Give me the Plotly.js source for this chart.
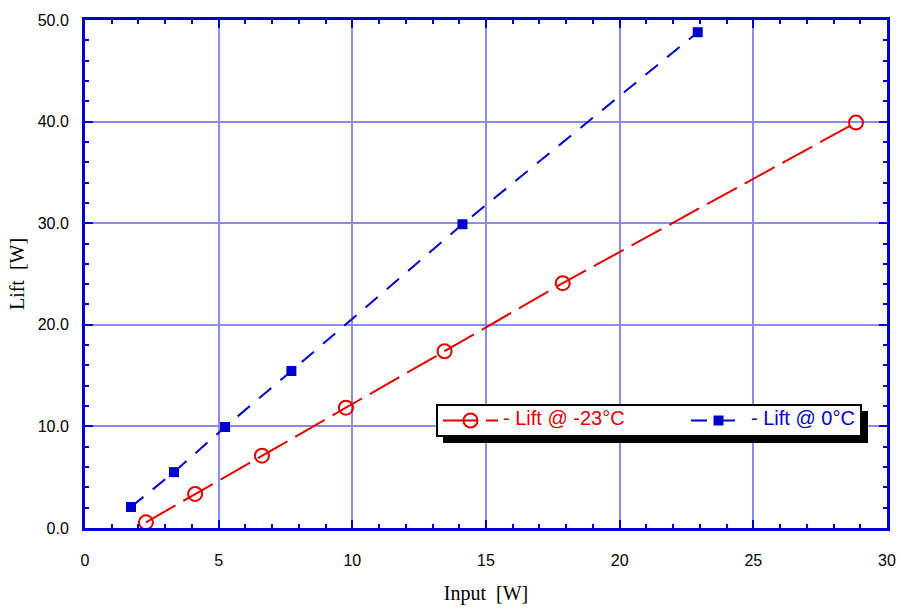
<!DOCTYPE html>
<html>
<head>
<meta charset="utf-8">
<script src="https://cdn.plot.ly/plotly-3.0.1.min.js"></script>
<style>html,body{margin:0;padding:0;background:#fff;}#chart{width:901px;height:609px;}</style>
</head>
<body>
<div id="chart"></div>
<script>
// Lift @ -23°C
const coldInput = [2.28, 4.12, 6.62, 9.76, 13.45, 17.87, 28.84];
const coldLift  = [0.56, 3.35, 7.12, 11.84, 17.4, 24.1, 39.9];
// Lift @ 0°C
const warmInput = [1.72, 3.33, 5.24, 7.72, 14.12, 22.92];
const warmLift  = [2.07, 5.5, 9.94, 15.45, 29.9, 48.8];

const coldName = '<span style="color:#e00000;font-size:20px">- Lift @ -23°C</span>';
const warmName = '<span style="color:#0000cc;font-size:20px">- Lift @ 0°C</span>';

const W = 901, H = 609;
const L = 85, R = 14, T = 20, B = 81;
const pw = W - L - R, ph = H - T - B;
function px2x(p){ return (p - L) / pw; }
function px2y(p){ return (H - B - p) / ph; }

const traces = [
  {x: coldInput, y: coldLift, name: coldName, type: 'scatter', mode: 'lines+markers',
   legendwidth: 178,
   line: {color: '#e00000', width: 2, dash: '34px,9px'},
   marker: {symbol: 'circle-open', size: 14, color: '#e00000', line: {width: 2, color: '#e00000'}}},
  {x: warmInput, y: warmLift, name: warmName, type: 'scatter', mode: 'lines+markers',
   legendwidth: 104,
   line: {color: '#0000cc', width: 2, dash: '16px,12px'},
   marker: {symbol: 'square', size: 10, color: '#0000cc'}}
];

const axisCommon = {
  showline: true, linecolor: '#0000cc', linewidth: 3, mirror: 'ticks',
  ticks: 'inside', tickcolor: '#0000cc', tickwidth: 2, ticklen: 8,
  showgrid: true, gridcolor: '#8a8af0', gridwidth: 2, zeroline: false,
  tickfont: {family: 'Liberation Sans, Arial, sans-serif', size: 16, color: '#000'}
};

const layout = {
  width: W, height: H,
  margin: {l: L, r: R, t: T, b: B, autoexpand: false},
  paper_bgcolor: '#fff', plot_bgcolor: '#fff',
  showlegend: true,
  xaxis: Object.assign({}, axisCommon, {
    range: [0, 30], dtick: 5, tick0: 0,
    minor: {dtick: 1, ticks: 'inside', ticklen: 4, tickcolor: '#0000cc', tickwidth: 2, showgrid: false},
    ticklabelstandoff: 16,
    title: {text: 'Input&nbsp;&nbsp;[W]', standoff: 18,
            font: {family: 'Liberation Serif, Times New Roman, serif', size: 20, color: '#000'}}
  }),
  yaxis: Object.assign({}, axisCommon, {
    range: [0, 50], dtick: 10, tick0: 0, tickformat: '.1f',
    minor: {dtick: 2, ticks: 'inside', ticklen: 4, tickcolor: '#0000cc', tickwidth: 2, showgrid: false},
    ticklabelstandoff: 10,
    title: {text: 'Lift&nbsp;&nbsp;[W]', standoff: 8,
            font: {family: 'Liberation Serif, Times New Roman, serif', size: 20, color: '#000'}}
  }),
  legend: {
    orientation: 'h', x: px2x(436), y: px2y(404), xanchor: 'left', yanchor: 'top',
    bgcolor: '#fff', bordercolor: '#000', borderwidth: 2,
    entrywidthmode: 'pixels', itemwidth: 55,
    font: {family: 'Liberation Sans, Arial, sans-serif', size: 12}
  },
  shapes: [
    {type: 'rect', xref: 'paper', yref: 'paper', layer: 'above',
     x0: px2x(443), x1: px2x(868), y0: px2y(443), y1: px2y(411),
     fillcolor: '#000', line: {width: 0}}
  ]
};

Plotly.newPlot('chart', traces, layout, {displayModeBar: false, staticPlot: true});
</script>
</body>
</html>
